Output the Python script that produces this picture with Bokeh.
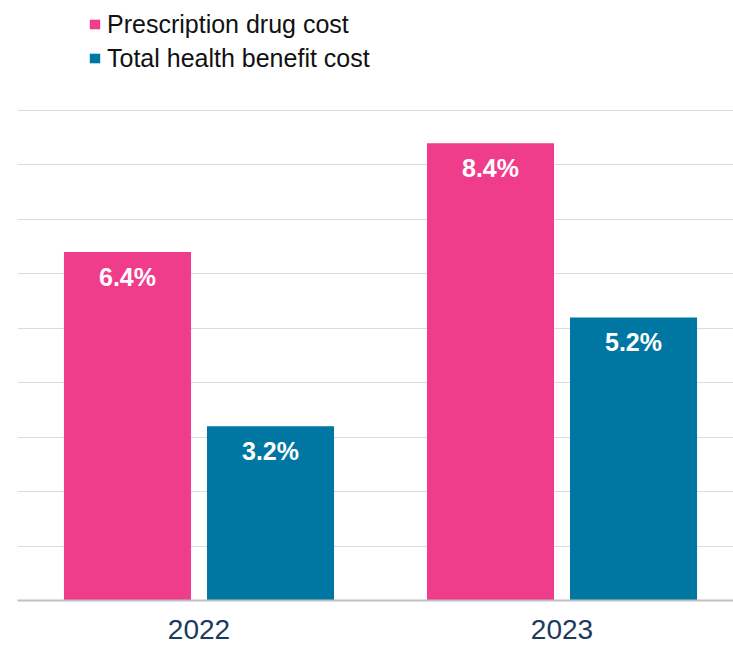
from bokeh.plotting import figure
from bokeh.models import ColumnDataSource, Range1d, FixedTicker, Legend, LegendItem
from bokeh.transform import dodge
from bokeh.embed import file_html
from bokeh.resources import INLINE

years = ["2022", "2023"]
series_names = ["Prescription drug cost", "Total health benefit cost"]
rx_cost = [6.4, 8.4]
total_cost = [3.2, 5.2]
colors = ["#EF3D8C", "#0077A3"]

xpos = [i + 0.5 for i in range(len(years))]
src = ColumnDataSource(dict(
    x=xpos,
    rx=rx_cost,
    total=total_cost,
    rx_lbl=[f"{v:.1f}%" for v in rx_cost],
    total_lbl=[f"{v:.1f}%" for v in total_cost],
))

W, H = 733, 646
p = figure(width=W, height=H, output_backend="svg", toolbar_location=None,
           x_range=Range1d(0, 716 / 363), y_range=Range1d(0, 600 / 54.44),
           min_border_left=17, min_border_right=0, min_border_top=0, min_border_bottom=46)
p.outline_line_color = None
p.background_fill_color = "white"

r1 = p.vbar(x=dodge("x", -0.197, range=p.x_range), top="rx", width=0.35, source=src,
            fill_color=colors[0], line_color=None)
r2 = p.vbar(x=dodge("x", 0.197, range=p.x_range), top="total", width=0.35, source=src,
            fill_color=colors[1], line_color=None)

lbl_common = dict(text_color="white", text_font_size="25px", text_font_style="bold",
                  text_align="center", text_baseline="middle", y_offset=25)
p.text(x=dodge("x", -0.197, range=p.x_range), y="rx", text="rx_lbl", source=src,
       text_font={"value": "Liberation Sans"}, **lbl_common)
p.text(x=dodge("x", 0.197, range=p.x_range), y="total", text="total_lbl", source=src,
       text_font={"value": "Liberation Sans"}, **lbl_common)

p.yaxis.visible = False
p.ygrid.ticker = FixedTicker(ticks=list(range(0, 10)))
p.ygrid.grid_line_color = "#DCDBE3"
p.ygrid.grid_line_width = 1
p.xgrid.grid_line_color = None

xa = p.xaxis[0]
xa.ticker = FixedTicker(ticks=xpos)
xa.major_label_overrides = {x: y for x, y in zip(xpos, years)}
xa.major_tick_line_color = None
xa.minor_tick_line_color = None
xa.axis_line_color = "#BFBFBF"
xa.axis_line_width = 2
xa.major_label_standoff = 13
xa.major_label_text_font = "Liberation Sans"
xa.major_label_text_font_size = "28px"
xa.major_label_text_color = "#1B3A5C"

legend = Legend(items=[LegendItem(label=series_names[0], renderers=[r1]),
                       LegendItem(label=series_names[1], renderers=[r2])],
                location=(71, 527), orientation="vertical")
legend.glyph_width = 13
legend.glyph_height = 12
legend.label_height = 30
legend.spacing = 4
legend.label_standoff = 6
legend.padding = 0
legend.margin = 0
legend.border_line_color = None
legend.background_fill_alpha = 0
legend.label_text_font = "Liberation Sans"
legend.label_text_font_size = "25px"
legend.label_text_color = "#111111"
p.add_layout(legend, "center")

open("out.html", "w").write(file_html(p, INLINE))
